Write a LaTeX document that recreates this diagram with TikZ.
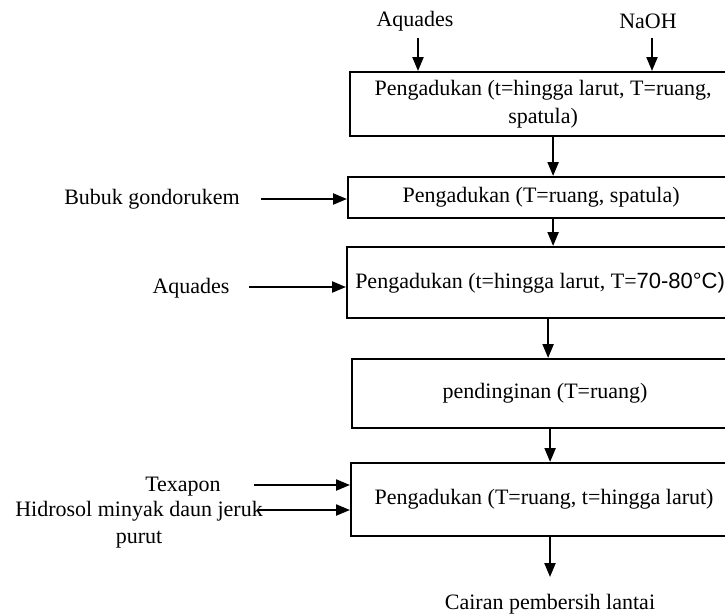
\documentclass[tikz,border=0pt]{standalone}
\usepackage{fontspec}
\setmainfont{Liberation Serif}
\setsansfont{Liberation Sans}
\usetikzlibrary{arrows.meta,calc}
\begin{document}
\begin{tikzpicture}[x=1pt,y=-1pt,
  every node/.style={font=\fontsize{22}{27.5}\selectfont},
  box/.style={draw, line width=2.2pt, rectangle, inner sep=0pt, minimum width=386pt, anchor=north west, align=center},
  lbl/.style={inner sep=0pt, align=center},
  arr/.style={line width=2.2pt, -{Triangle[length=14pt,width=11pt]}}]
\useasboundingbox (0,0) rectangle (725,614);
\clip (0,0) rectangle (725,614);
% boxes
\node[box, minimum height=64pt] (b1) at (349,71) {Pengadukan (t=hingga larut, T=ruang,\\spatula)};
\node[box, minimum height=41pt] (b2) at (347,176) {Pengadukan (T=ruang, spatula)};
\node[box, minimum height=71pt] (b3) at (346,246) {Pengadukan (t=hingga larut, T={\sffamily 70-80°C)}};
\node[box, minimum height=69pt] (b4) at (351,358) {pendinginan (T=ruang)};
\node[box, minimum height=73pt] (b5) at (350,462) {Pengadukan (T=ruang, t=hingga larut)};
% labels
\node[lbl] (aq1) at (415,21) {Aquades};
\node[lbl] (naoh) at (648,21) {NaOH};
\node[lbl] (bub) at (152,199) {Bubuk gondorukem};
\node[lbl] (aq2) at (191,288) {Aquades};
\node[lbl] (tex) at (183,487) {Texapon};
\node[lbl] (hid) at (139,524.5) {Hidrosol minyak daun jeruk\\purut};
\node[lbl] (cair) at (550,604) {Cairan pembersih lantai};
% arrow tails
\coordinate (taq1) at (418,38);
\coordinate (tnaoh) at (652,38);
\coordinate (tbub) at (261,199);
\coordinate (taq2) at (249,287);
\coordinate (ttex) at (254,485);
\coordinate (thid) at (258,510);
\coordinate (hout) at (550,577);
% arrows
\draw[arr] (taq1) -- (taq1 |- b1.north);
\draw[arr] (tnaoh) -- (tnaoh |- b1.north);
\draw[arr] ([xshift=10pt]b1.south) -- ([xshift=10pt]b1.south |- b2.north);
\draw[arr] ([xshift=12pt]b2.south) -- ([xshift=12pt]b2.south |- b3.north);
\draw[arr] ([xshift=8pt]b3.south) -- ([xshift=8pt]b3.south |- b4.north);
\draw[arr] ([xshift=5pt]b4.south) -- ([xshift=5pt]b4.south |- b5.north);
\draw[arr] (hout |- b5.south) -- (hout);
\draw[arr] (tbub) -- (tbub -| b2.west);
\draw[arr] (taq2) -- (taq2 -| b3.west);
\draw[arr] (ttex) -- (ttex -| b5.west);
\draw[arr] (thid) -- (thid -| b5.west);
\end{tikzpicture}
\end{document}
